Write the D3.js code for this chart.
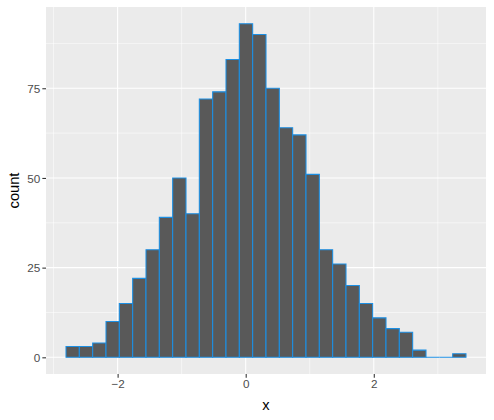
<!DOCTYPE html>
<html><head><meta charset="utf-8">
<script src="https://cdn.jsdelivr.net/npm/d3@7"></script>
<style>body{margin:0;background:#fff}svg{display:block}</style>
</head><body>
<script>
const binStart = -2.806;
const binWidth = 0.2082;
const counts = [3,3,4,10,15,22,30,39,50,40,72,74,83,93,90,75,64,62,51,30,26,20,15,11,8,7,2,0,0,1];
const xTicks = [-2,0,2];
const xMinor = [-3,-1,1,3];
const yTicks = [0,25,50,75];
const yMinor = [12.5,37.5,62.5,87.5];

const W=494,H=420;
const m={l:46,r:8,t:7,b:46};
const svg=d3.select("body").append("svg").attr("width",W).attr("height",H);
const bins=counts.map((c,i)=>({x0:binStart+i*binWidth,x1:binStart+(i+1)*binWidth,c}));
const lo=bins[0].x0, hi=bins[bins.length-1].x1, ex=(hi-lo)*0.05;
const ymax=d3.max(counts), ey=ymax*0.05;
const x=d3.scaleLinear().domain([lo-ex,hi+ex]).range([m.l,W-m.r]);
const y=d3.scaleLinear().domain([-ey,ymax+ey]).range([H-m.b,m.t]);

svg.append("rect").attr("x",m.l).attr("y",m.t).attr("width",W-m.r-m.l).attr("height",H-m.b-m.t).attr("fill","#EBEBEB");
const g=svg.append("g");
g.selectAll(".xm").data(xMinor).join("line").attr("x1",d=>x(d)).attr("x2",d=>x(d)).attr("y1",m.t).attr("y2",H-m.b).attr("stroke","#fff").attr("stroke-width",0.53);
g.selectAll(".ym").data(yMinor).join("line").attr("y1",d=>y(d)).attr("y2",d=>y(d)).attr("x1",m.l).attr("x2",W-m.r).attr("stroke","#fff").attr("stroke-width",0.53);
g.selectAll(".xM").data(xTicks).join("line").attr("x1",d=>x(d)).attr("x2",d=>x(d)).attr("y1",m.t).attr("y2",H-m.b).attr("stroke","#fff").attr("stroke-width",1.07);
g.selectAll(".yM").data(yTicks).join("line").attr("y1",d=>y(d)).attr("y2",d=>y(d)).attr("x1",m.l).attr("x2",W-m.r).attr("stroke","#fff").attr("stroke-width",1.07);

svg.append("g").selectAll("path").data(bins).join("path")
 .attr("d",d=>{const x0=x(d.x0),x1=x(d.x1),y0=y(0),y1=y(d.c);return `M${x0},${y0}L${x0},${y1}L${x1},${y1}L${x1},${y0}Z`;})
 .attr("fill","#595959").attr("stroke","#1C8FE3").attr("stroke-width",1.07);

const xa=svg.append("g").attr("transform",`translate(0,${H-m.b})`)
 .call(d3.axisBottom(x).tickValues(xTicks).tickSize(3.67).tickPadding(2.2).tickFormat(d3.format("d")));
const ya=svg.append("g").attr("transform",`translate(${m.l},0)`)
 .call(d3.axisLeft(y).tickValues(yTicks).tickSize(3.67).tickPadding(2.2).tickFormat(d3.format("d")));
[xa,ya].forEach(a=>{a.select(".domain").remove();
 a.selectAll(".tick line").attr("stroke","#333333").attr("stroke-width",1.07);
 a.selectAll(".tick text").attr("fill","#4D4D4D").style("font-family","Liberation Sans, Arial, sans-serif").style("font-size","11.7px");});
ya.selectAll(".tick text").attr("dy","0.36em");

svg.append("text").attr("x",(m.l+W-m.r)/2).attr("y",410).attr("text-anchor","middle")
 .style("font-family","Liberation Sans, Arial, sans-serif").style("font-size","14.67px").attr("fill","#000").text("x");
svg.append("text").attr("transform",`translate(19,${(m.t+H-m.b)/2}) rotate(-90)`).attr("text-anchor","middle")
 .style("font-family","Liberation Sans, Arial, sans-serif").style("font-size","14.67px").attr("fill","#000").text("count");
</script>
</body></html>
